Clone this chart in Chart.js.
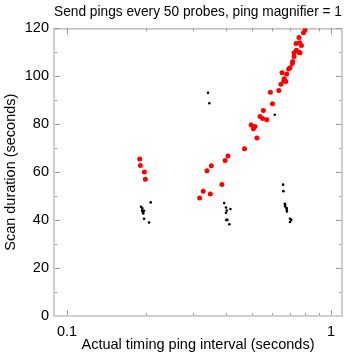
<!DOCTYPE html>
<html>
<head>
<meta charset="utf-8">
<script src="https://cdn.jsdelivr.net/npm/chart.js@4"></script>
<style>
  html, body { margin: 0; padding: 0; background: #fff; }
  #wrap { width: 360px; height: 360px; }
</style>
</head>
<body>
<div id="wrap"><canvas id="scan-chart" width="360" height="360"></canvas></div>
<script>
// red points: timing ping interval (s) vs scan duration (s)
const redX = [0.797, 0.786, 0.756, 0.737, 0.761, 0.772, 0.739, 0.755, 0.763, 0.724,
              0.724, 0.716, 0.713, 0.699, 0.691, 0.652, 0.679, 0.665, 0.662, 0.674,
              0.646, 0.634, 0.589, 0.600, 0.554, 0.538, 0.551, 0.571, 0.498, 0.515,
              0.508, 0.524, 0.470, 0.407, 0.397, 0.352, 0.339, 0.386, 0.328, 0.349,
              0.318, 0.1886, 0.1896, 0.1963, 0.198];
const redY = [119.3, 118.2, 116.2, 113.7, 114.0, 112.9, 110.9, 110.1, 109.8, 109.8,
              108.3, 106.2, 105.4, 103.6, 103.1, 101.5, 101.0, 99.0, 98.2, 97.8,
              96.7, 94.1, 93.4, 88.6, 85.7, 83.2, 82.4, 81.9, 79.7, 79.1,
              78.1, 74.3, 69.8, 66.8, 64.9, 62.7, 60.6, 54.9, 52.1, 50.9,
              49.2, 65.5, 62.8, 60.1, 57.1];

// small black points
const blackX = [0.342, 0.346, 0.612,
                0.1907, 0.1929, 0.1924, 0.1958, 0.1935, 0.1945, 0.2075, 0.1958, 0.2045,
                0.394, 0.400, 0.416, 0.403, 0.400, 0.401, 0.405, 0.412,
                0.658, 0.660, 0.668, 0.670, 0.670, 0.679, 0.679, 0.681, 0.699, 0.707, 0.699];
const blackY = [93.1, 88.8, 84.0,
                45.6, 44.9, 44.0, 43.9, 43.5, 42.8, 47.4, 40.6, 39.0,
                47.1, 45.3, 44.6, 44.0, 43.1, 40.1, 40.1, 38.3,
                54.8, 52.1, 46.8, 46.3, 45.7, 45.0, 44.3, 43.6, 40.6, 40.1, 39.2];

const xTickLabels = [0.1, 1];
const xMinorTicks = [0.2, 0.3, 0.4, 0.5, 0.6, 0.7, 0.8, 0.9];
const yTickLabels = [0, 20, 40, 60, 80, 100, 120];
const yMinorTicks = [10, 30, 50, 70, 90, 110];

const FONT = 'Liberation Sans, Arial, Helvetica, sans-serif';

// frame round the plot with inward tick marks on all four sides
const frameTicks = {
    id: 'frameTicks',
    beforeDatasetsDraw(chart) {
        const {ctx, chartArea: a, scales: {x, y}} = chart;
        ctx.save();
        ctx.strokeStyle = '#999';
        ctx.lineWidth = 1;
        ctx.beginPath();
        const hTick = (v, len) => {
            const p = Math.round(y.getPixelForValue(v)) + 0.5;
            ctx.moveTo(a.left, p); ctx.lineTo(a.left + len, p);
            ctx.moveTo(a.right, p); ctx.lineTo(a.right - len, p);
        };
        const vTick = (v, len) => {
            const p = Math.round(x.getPixelForValue(v)) + 0.5;
            ctx.moveTo(p, a.bottom); ctx.lineTo(p, a.bottom - len);
            ctx.moveTo(p, a.top); ctx.lineTo(p, a.top + len);
        };
        yTickLabels.forEach(v => hTick(v, 6));
        yMinorTicks.forEach(v => hTick(v, 3));
        xTickLabels.forEach(v => vTick(v, 6));
        xMinorTicks.forEach(v => vTick(v, 3));
        ctx.stroke();

        // light grey box
        ctx.strokeStyle = '#cfcfcf';
        ctx.lineWidth = 2;
        ctx.beginPath();
        ctx.moveTo(a.left, a.top);
        ctx.lineTo(a.left, a.bottom);
        ctx.lineTo(a.right, a.bottom);
        ctx.lineTo(a.right, a.top);
        ctx.stroke();
        ctx.strokeStyle = '#999';
        ctx.lineWidth = 1;
        ctx.beginPath();
        ctx.moveTo(a.left, a.top + 0.5);
        ctx.lineTo(a.right, a.top + 0.5);
        ctx.stroke();
        ctx.restore();
    }
};

const toPoints = (xs, ys) => xs.map((v, i) => ({x: v, y: ys[i]}));

new Chart(document.getElementById('scan-chart').getContext('2d'), {
    type: 'scatter',
    data: {
        datasets: [{
            data: toPoints(redX, redY),
            backgroundColor: '#ff0000',
            borderWidth: 0,
            pointRadius: 2.5
        }, {
            data: toPoints(blackX, blackY),
            backgroundColor: '#000000',
            borderWidth: 0,
            pointRadius: 1.3
        }]
    },
    plugins: [frameTicks],
    options: {
        responsive: false,
        animation: false,
        devicePixelRatio: 1,
        layout: {
            padding: {left: 0, right: 18, top: 0, bottom: 0}
        },
        plugins: {
            legend: {display: false},
            tooltip: {enabled: false},
            title: {
                display: true,
                fullSize: false,
                text: 'Send pings every 50 probes, ping magnifier = 1',
                color: '#000',
                font: {family: FONT, size: 14.5, weight: 'normal'},
                padding: {top: 3, bottom: 8}
            }
        },
        scales: {
            x: {
                type: 'logarithmic',
                min: 0.0893,
                max: 1.1,
                afterBuildTicks: scale => {
                    scale.ticks = xTickLabels.map(v => ({value: v}));
                },
                afterFit: scale => { scale.height = 44; },
                grid: {display: false, drawTicks: false},
                border: {display: false},
                ticks: {
                    color: '#000',
                    font: {family: FONT, size: 14.5},
                    padding: 7,
                    maxRotation: 0,
                    callback: v => String(v)
                },
                title: {
                    display: true,
                    text: 'Actual timing ping interval (seconds)',
                    color: '#000',
                    font: {family: FONT, size: 14.5},
                    padding: {top: 0, bottom: 6}
                }
            },
            y: {
                min: 0,
                max: 120,
                afterBuildTicks: scale => {
                    scale.ticks = yTickLabels.map(v => ({value: v}));
                },
                afterFit: scale => { scale.width = 54; },
                grid: {display: false, drawTicks: false},
                border: {display: false},
                ticks: {
                    color: '#000',
                    font: {family: FONT, size: 14.5},
                    padding: 5
                },
                title: {
                    display: true,
                    text: 'Scan duration (seconds)',
                    color: '#000',
                    font: {family: FONT, size: 14.5},
                    padding: {top: 2, bottom: 0}
                }
            }
        }
    }
});
</script>
</body>
</html>
